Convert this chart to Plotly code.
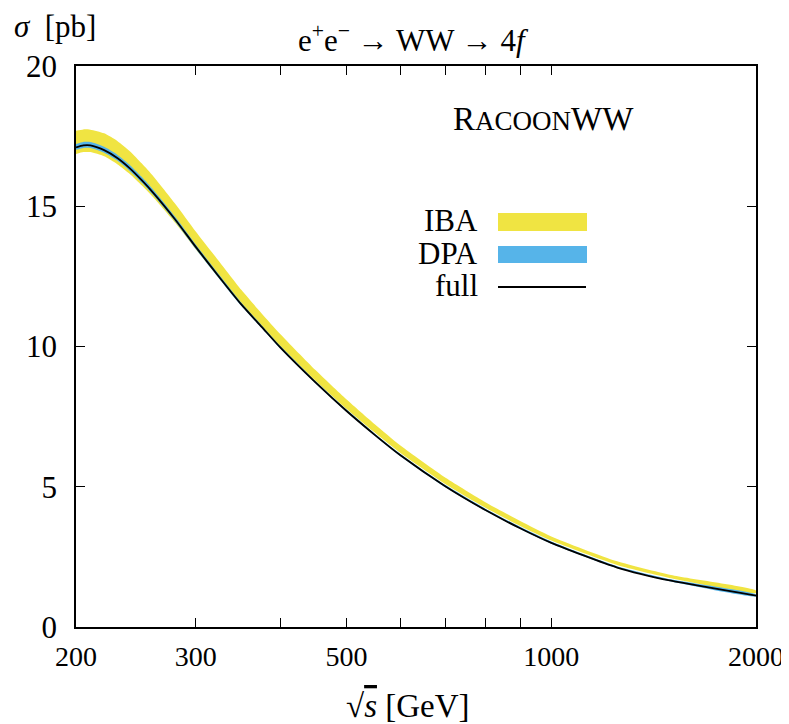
import plotly.graph_objects as go

energy = [200, 205, 210, 220, 230, 240, 250, 260, 280, 300, 325, 350, 375, 400,
          450, 500, 550, 600, 700, 800, 900, 1000, 1250, 1500, 2000]
full = [17.10, 17.17, 17.17, 17.00, 16.72, 16.35, 15.92, 15.47, 14.52, 13.55, 12.47,
        11.50, 10.70, 9.95, 8.72, 7.70, 6.85, 6.12, 5.00, 4.17, 3.52, 3.00, 2.12, 1.65, 1.12]
iba_low = [16.86, 16.93, 16.93, 16.78, 16.50, 16.15, 15.74, 15.31, 14.40, 13.47, 12.42,
           11.48, 10.70, 9.99, 8.78, 7.77, 6.93, 6.20, 5.08, 4.25, 3.60, 3.08, 2.21, 1.74, 1.21]
iba_high = [17.69, 17.74, 17.73, 17.60, 17.33, 16.96, 16.52, 16.06, 15.08, 14.10, 13.02,
            12.02, 11.18, 10.43, 9.16, 8.11, 7.23, 6.47, 5.31, 4.45, 3.78, 3.23, 2.34, 1.85, 1.30]
dpa_low = [17.01, 17.08, 17.08, 16.91, 16.63, 16.26, 15.84, 15.39, 14.45, 13.48, 12.41,
           11.45, 10.66, 9.91, 8.69, 7.67, 6.82, 6.09, 4.97, 4.14, 3.49, 2.97, 2.10, 1.62, 1.09]
dpa_high = [17.22, 17.29, 17.29, 17.12, 16.84, 16.47, 16.04, 15.58, 14.62, 13.64, 12.55,
            11.57, 10.76, 10.01, 8.77, 7.75, 6.90, 6.17, 5.05, 4.22, 3.57, 3.05, 2.17, 1.70, 1.16]

x_tickvals = [200, 300, 400, 500, 600, 700, 800, 900, 1000, 2000]
x_ticktext = ["200", "300", "", "500", "", "", "", "", "1000", "2000"]
y_tickvals = [0, 5, 10, 15, 20]

YELLOW = "#F0E442"
BLUE = "#56B4E9"
FONT = "Liberation Serif"
FS = 31

fig = go.Figure()
fig.add_trace(go.Scatter(x=energy + energy[::-1], y=iba_high + iba_low[::-1],
                         fill="toself", fillcolor=YELLOW, line=dict(width=0, shape="spline", smoothing=0.6),
                         mode="lines", hoverinfo="skip", showlegend=False))
fig.add_trace(go.Scatter(x=energy + energy[::-1], y=dpa_high + dpa_low[::-1],
                         fill="toself", fillcolor=BLUE, line=dict(width=0, shape="spline", smoothing=0.6),
                         mode="lines", hoverinfo="skip", showlegend=False))
fig.add_trace(go.Scatter(x=energy, y=full, mode="lines",
                         line=dict(color="black", width=1.8, shape="spline", smoothing=0.6),
                         showlegend=False))

# page body has an 8px margin; compensate so that the plot sits where the reference has it
OFF = 8
W, H = 789 - OFF, 724 - OFF
L, R, T, B = 76 - OFF, 33, 66 - OFF, 97
pw, ph = W - L - R, H - T - B


def px(x):
    return (x - OFF - L) / pw


def py(y):
    return (H - B - (y - OFF)) / ph


fig.update_layout(
    width=W, height=H,
    margin=dict(l=L, r=R, t=T, b=B, autoexpand=False),
    paper_bgcolor="white", plot_bgcolor="white",
    font=dict(family=FONT, color="black"),
    showlegend=False,
    xaxis=dict(type="log", range=[2.30103, 3.30103], tickvals=x_tickvals,
               ticktext=x_ticktext, ticks="inside", ticklen=9, tickwidth=1,
               tickcolor="black", showline=True, linecolor="black", linewidth=1.5,
               mirror="allticks", showgrid=False, zeroline=False, automargin=False,
               tickfont=dict(size=28, family=FONT), ticklabelstandoff=4),
    yaxis=dict(range=[0, 20], tickvals=y_tickvals, ticks="inside", ticklen=9,
               tickwidth=1, tickcolor="black", showline=True, linecolor="black",
               linewidth=1.5, mirror="allticks", showgrid=False, zeroline=False,
               automargin=False,
               tickfont=dict(size=FS, family=FONT), ticklabelstandoff=11),
)

ann = []
ann.append(dict(text="e<sup>+</sup>e<sup>−</sup> → WW → 4<i>f</i>", x=px(413), y=py(38),
                xref="paper", yref="paper", showarrow=False, font=dict(size=FS),
                xanchor="center", yanchor="middle"))
ann.append(dict(text="<i>σ</i>  [pb]", x=px(12), y=py(26), xref="paper", yref="paper",
                showarrow=False, font=dict(size=FS), xanchor="left", yanchor="middle"))
ann.append(dict(text="√<span style='text-decoration:overline'><i>s</i></span> [GeV]",
                x=px(408), y=py(706), xref="paper", yref="paper", showarrow=False,
                font=dict(size=33), xanchor="center", yanchor="middle"))
ann.append(dict(text="R<span style='font-size:27px'>ACOON</span>WW", x=px(543), y=py(119),
                xref="paper", yref="paper", showarrow=False, font=dict(size=33),
                xanchor="center", yanchor="middle"))
for label, yc in [("IBA", 221), ("DPA", 253), ("full", 285)]:
    ann.append(dict(text=label, x=px(480), y=py(yc), xref="paper", yref="paper",
                    showarrow=False, font=dict(size=FS), xanchor="right", yanchor="middle"))
fig.update_layout(annotations=ann)

shapes = [
    dict(type="rect", xref="paper", yref="paper", x0=px(498), x1=px(587),
         y0=py(231), y1=py(213), fillcolor=YELLOW, line=dict(width=0)),
    dict(type="rect", xref="paper", yref="paper", x0=px(498), x1=px(587),
         y0=py(263), y1=py(246), fillcolor=BLUE, line=dict(width=0)),
    dict(type="line", xref="paper", yref="paper", x0=px(498), x1=px(586),
         y0=py(287), y1=py(287), line=dict(color="black", width=1.8)),
]
fig.update_layout(shapes=shapes)

fig.write_html("out.html")
